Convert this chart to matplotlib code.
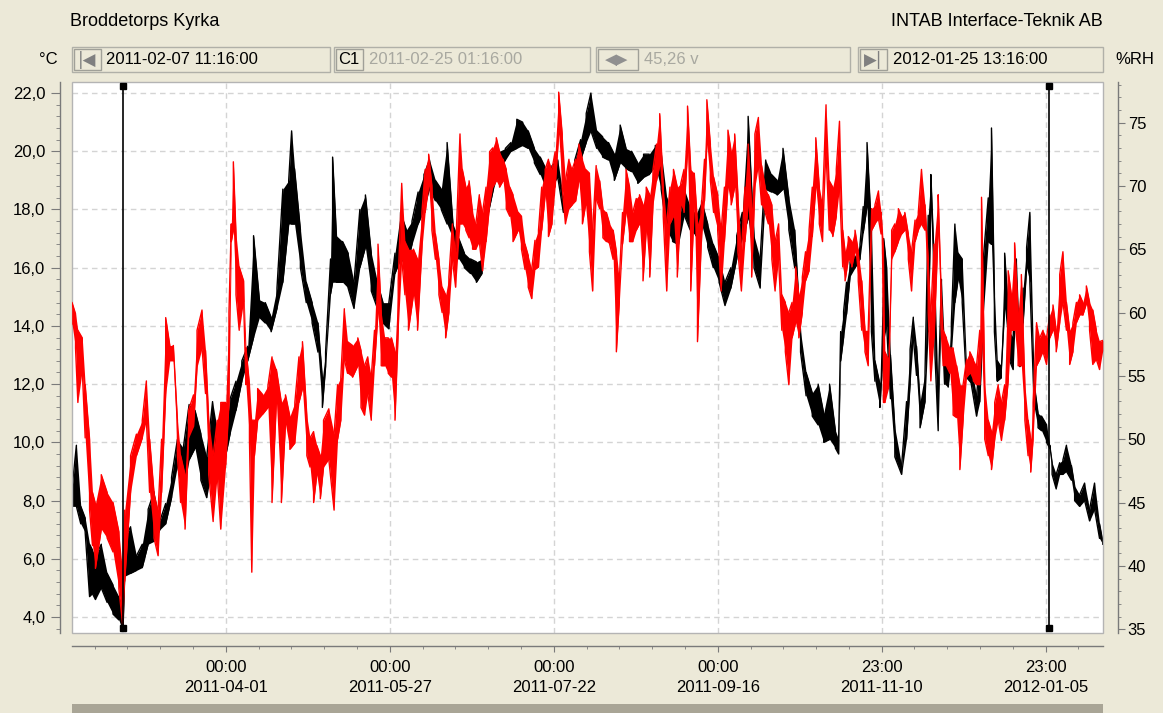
import pandas as pd
import matplotlib
matplotlib.use("Agg")
import matplotlib.pyplot as plt
from matplotlib.patches import Rectangle
from matplotlib.ticker import FuncFormatter, MultipleLocator
import matplotlib.transforms as mtransforms

plt.rcParams['font.family'] = ['Liberation Sans', 'DejaVu Sans']

W, H = 1163, 713
BG = '#ECE9D8'

start = pd.Timestamp("2011-02-07 11:16")
end = pd.Timestamp("2012-01-25 13:16")
cursor_left = pd.Timestamp("2011-02-25 01:16")
cursor_right = pd.Timestamp("2012-01-07 06:00")

# temperature (black, left axis): days after start, low / high of the band
temp_day = [0, 1.5, 3, 4.5, 6, 7, 8, 10, 12, 14, 16, 17.4, 18, 20, 22, 24, 26, 28, 30, 32,
            34, 36, 38, 40, 42, 44, 46, 48, 50, 52, 54, 56, 58, 60, 62, 64, 66, 68, 70, 72,
            74, 75, 76, 78, 80, 82, 84, 85.5, 86.6, 88.3, 89, 90.3, 92.4, 94.3, 96.3, 98.3, 100.2, 102.2, 104.3, 106.2,
            108.2, 110.3, 112.2, 114.2, 116.1, 118.2, 120.2, 122.1, 124.1, 126.1, 128.1, 130.1, 132.1, 134.0, 136.1, 138.1, 140.0, 142.0, 143.9, 146.0,
            148.0, 149.9, 151.9, 153.9, 155.8, 157.9, 159.9, 161.8, 163.9, 165.9, 167.8, 169.8, 171.7, 173.7, 175.6, 177.2, 179.2, 181.2, 183.2, 185.2,
            187.2, 189.2, 191.1, 193.2, 195.2, 197.1, 199.2, 201.2, 203.1, 205.1, 207.1, 209.1, 211.1, 213.0, 215.0, 217.1, 219.0, 221.0, 223.0, 225.0,
            227.0, 228.9, 230.9, 232.9, 235.0, 236.9, 238.9, 240.8, 242.8, 244.8, 246.8, 248.8, 250.7, 252.8, 254.8, 256.7, 258.7, 260.7, 261.8, 262.5,
            263.5, 264.5, 265.7, 267.4, 269.1, 270.2, 271.5, 273.0, 274.2, 275.9, 277.2, 278.2, 279.5, 281.0, 283.3, 285.0, 286.2, 287.3, 288.4, 289.6,
            291.3, 292.4, 293.3, 294.7, 295.8, 296.9, 298.0, 299.2, 300.3, 301.5, 302.6, 304.0, 305.4, 307.1, 308.9, 310.0, 311.2, 312.9, 314.0, 315.0,
            316.0, 317.2, 318.5, 320.2, 321.4, 322.5, 323.7, 324.8, 326.0, 327.1, 328.6, 329.9, 331.1, 332.8, 333.9, 334.7, 336.1, 337.3, 338.4, 339.6,
            341.3, 342.4, 344.1, 345.8, 347.5, 349.2, 350.9, 352.0]
temp_lo = [7.8, 7.8, 7.2, 6.9, 4.7, 4.8, 4.6, 5.0, 4.5, 4.1, 3.9, 3.5, 5.4, 5.5, 5.6, 5.7, 6.5, 6.6, 7.0, 7.2,
           8.1, 9.2, 8.3, 9.4, 9.8, 8.7, 8.1, 9.2, 9.1, 9.3, 10.3, 11.1, 12.1, 12.8, 13.6, 14.3, 14.1, 13.8, 14.6, 15.5,
           17.5, 17.5, 17.5, 16.0, 14.8, 14.1, 13.1, 11.2, 12.6, 15.1, 15.5, 15.5, 15.5, 15.3, 14.6, 16.0, 16.7, 15.2, 14.6, 14.1,
           13.9, 15.8, 16.3, 16.0, 16.8, 17.5, 18.0, 18.7, 18.3, 18.0, 17.5, 17.0, 16.3, 16.0, 15.8, 15.5, 15.8, 17.8, 18.7, 19.4,
           19.7, 20.0, 20.1, 20.2, 20.1, 19.6, 19.2, 18.7, 18.8, 19.1, 17.9, 18.2, 18.7, 19.7, 20.3, 20.7, 20.1, 19.8, 19.7, 19.0,
           19.6, 19.4, 19.3, 18.9, 19.1, 19.2, 19.5, 18.7, 17.3, 16.9, 16.8, 17.8, 17.3, 17.1, 17.5, 16.7, 16.0, 15.5, 14.7, 15.3,
           16.3, 17.0, 17.7, 16.0, 15.3, 18.7, 18.6, 18.5, 18.7, 17.3, 16.0, 13.1, 11.6, 10.9, 10.6, 10.0, 10.1, 9.8, 9.6, 12.8,
           13.6, 14.4, 15.7, 16.0, 16.3, 17.2, 18.1, 13.8, 12.1, 11.2, 13.5, 14.0, 11.5, 9.5, 8.9, 10.1, 12.0, 13.6, 12.3, 10.5,
           11.4, 13.8, 18.1, 13.0, 10.4, 14.8, 12.0, 11.9, 13.1, 14.8, 15.6, 14.8, 12.2, 12.0, 10.9, 11.4, 14.4, 16.9, 16.8, 13.8,
           12.1, 12.2, 14.6, 12.8, 12.5, 15.1, 12.6, 14.1, 16.0, 15.5, 11.2, 10.5, 10.4, 10.0, 9.8, 8.9, 8.4, 8.9, 8.9, 9.0,
           8.7, 8.0, 7.8, 8.0, 7.3, 7.7, 6.7, 6.5]
temp_hi = [8.4, 9.9, 7.8, 7.4, 6.5, 6.3, 6.1, 6.5, 5.5, 5.1, 4.7, 4.2, 6.7, 7.1, 6.1, 6.5, 7.7, 8.3, 7.3, 7.9,
           8.8, 10.1, 9.8, 11.3, 11.1, 10.3, 9.5, 11.4, 10.2, 10.0, 11.5, 12.1, 12.8, 13.3, 17.1, 14.9, 14.8, 14.3, 15.3, 18.7,
           19.0, 20.7, 19.4, 17.3, 15.5, 14.8, 14.1, 12.2, 13.1, 16.3, 19.8, 17.1, 16.9, 16.5, 15.5, 18.0, 18.5, 16.5, 15.5, 14.8,
           14.8, 16.5, 17.9, 17.3, 17.6, 18.6, 19.2, 19.7, 19.0, 18.7, 20.3, 17.5, 17.0, 16.5, 16.3, 16.2, 16.3, 18.7, 20.0, 20.0,
           20.1, 20.3, 21.1, 21.0, 20.7, 20.1, 19.8, 19.4, 19.5, 19.7, 18.4, 18.8, 19.7, 20.4, 21.3, 22.0, 20.7, 20.5, 20.3, 19.9,
           20.9, 20.1, 20.0, 19.6, 19.9, 19.9, 20.2, 20.0, 18.4, 17.8, 17.5, 18.7, 18.1, 17.8, 18.3, 17.5, 16.8, 16.3, 15.5, 16.0,
           17.1, 17.9, 21.2, 17.1, 16.3, 19.7, 19.2, 19.0, 20.1, 18.4, 17.3, 13.8, 12.4, 11.7, 12.0, 11.0, 12.0, 10.4, 10.1, 13.8,
           14.5, 15.5, 16.2, 16.4, 16.8, 18.1, 20.3, 17.3, 12.8, 12.0, 17.0, 16.0, 13.0, 10.5, 9.2, 11.4, 13.2, 14.3, 13.3, 11.4,
           12.4, 17.8, 19.2, 15.5, 11.6, 15.6, 13.2, 12.6, 14.1, 17.5, 16.5, 16.3, 12.8, 12.6, 11.6, 12.8, 16.3, 18.4, 20.8, 15.1,
           12.8, 12.6, 16.5, 13.8, 13.6, 16.3, 13.2, 15.3, 16.7, 17.9, 12.0, 11.0, 10.9, 10.6, 9.9, 9.3, 8.9, 9.3, 9.4, 9.9,
           9.2, 8.5, 8.2, 8.6, 7.7, 8.6, 7.2, 6.6]

# relative humidity (red, right axis)
rh_day = [0, 1.2, 2.0, 3.5, 4.5, 6.0, 7.0, 8.0, 10.0, 12.0, 14.0, 16.0, 17.3, 18.0, 20.0, 22.0, 24.0, 25.4, 26.5, 28.0,
          29.4, 30.6, 32.0, 33.4, 34.6, 36.0, 37.1, 38.6, 39.8, 41.5, 42.7, 44.4, 45.6, 46.7, 48.2, 49.6, 50.8, 52.5, 53.6, 54.4,
          55.1, 56.0, 57.1, 58.6, 59.4, 60.6, 61.4, 62.3, 63.4, 65.2, 66.9, 68.3, 69.8, 71.5, 72.9, 74.4, 76.1, 77.5, 78.7, 80.2,
          81.3, 82.5, 83.6, 84.8, 85.9, 87.7, 89.5, 90.7, 91.8, 93.0, 94.1, 95.8, 97.6, 98.7, 99.9, 101.0, 102.2, 103.3, 104.5, 105.6,
          106.8, 108.0, 109.1, 110.3, 111.4, 112.6, 113.7, 114.9, 116.6, 118.0, 119.5, 120.6, 121.8, 122.9, 124.1, 125.3, 126.4, 127.6, 128.7, 129.9,
          131.0, 132.5, 133.3, 134.5, 135.6, 136.8, 137.9, 139.1, 140.2, 141.4, 142.6, 143.7, 144.9, 146.0, 147.2, 148.3, 149.5, 150.6, 152.4, 153.5,
          154.7, 155.8, 157.0, 158.1, 159.3, 160.4, 161.6, 162.7, 163.9, 165.0, 166.2, 167.4, 168.5, 169.7, 170.8, 172.0, 173.1, 174.3, 175.4, 176.7,
          177.8, 179.0, 180.2, 181.3, 182.5, 183.6, 184.8, 185.9, 186.9, 188.0, 189.2, 190.4, 191.5, 192.7, 193.8, 195.0, 196.1, 197.3, 198.4, 199.6,
          200.7, 201.9, 203.1, 204.2, 205.4, 206.7, 207.9, 209.0, 210.2, 211.3, 212.5, 213.6, 214.8, 216.0, 216.8, 218.0, 219.1, 220.5, 221.7, 222.8,
          224.0, 225.1, 226.3, 227.4, 228.6, 229.8, 230.9, 232.1, 233.2, 234.4, 235.5, 236.7, 237.8, 239.0, 240.1, 241.3, 242.4, 243.6, 244.8, 245.9,
          247.1, 248.2, 249.4, 250.5, 251.7, 252.8, 254.0, 255.2, 256.3, 257.5, 258.6, 259.8, 261.0, 262.1, 263.2, 264.0, 265.1, 266.3, 267.4, 268.5,
          269.7, 270.8, 271.9, 273.1, 274.2, 275.4, 276.3, 277.1, 277.6, 278.8, 279.9, 281.0, 282.2, 283.3, 284.4, 285.6, 286.7, 287.9, 289.0, 290.1,
          291.3, 292.4, 293.3, 294.4, 295.8, 296.7, 297.5, 298.6, 299.8, 300.9, 302.1, 303.2, 304.3, 305.5, 306.6, 307.8, 308.9, 310.0, 310.6, 311.7,
          312.9, 314.0, 315.1, 316.3, 317.4, 318.5, 319.7, 320.8, 321.9, 323.1, 324.2, 325.4, 326.5, 327.4, 328.2, 329.4, 330.5, 331.6, 332.8, 333.9,
          335.0, 336.1, 337.3, 338.4, 339.6, 340.7, 341.8, 343.0, 344.1, 345.2, 346.4, 347.5, 348.6, 349.8, 350.9, 352.0]
rh_lo = [59.1, 57.2, 52.9, 55.5, 50.1, 44.4, 41.6, 39.8, 42.9, 42.2, 41.1, 38.2, 35.4, 38.8, 45.8, 48.7, 50.1, 51.5, 45.8, 42.2,
         40.8, 45.8, 53.6, 56.2, 56.2, 48.7, 45.0, 42.9, 50.1, 51.0, 55.7, 57.2, 53.6, 47.2, 43.5, 47.2, 42.9, 48.0, 52.9, 65.6,
         66.5, 61.4, 58.6, 60.9, 54.3, 50.0, 39.5, 48.7, 51.5, 52.0, 52.5, 45.0, 53.0, 45.0, 51.2, 49.2, 49.7, 52.9, 54.0, 48.7,
         47.8, 45.0, 47.2, 45.3, 47.8, 48.4, 44.4, 50.0, 51.5, 56.3, 55.2, 54.9, 55.8, 52.5, 51.9, 53.6, 51.5, 55.8, 60.0, 55.8,
         55.8, 55.2, 54.9, 51.5, 58.6, 64.2, 61.4, 58.6, 61.4, 58.6, 65.1, 67.9, 70.0, 66.5, 64.2, 61.4, 60.0, 58.0, 60.0, 64.2,
         62.0, 67.0, 67.0, 66.5, 65.9, 65.0, 65.0, 65.6, 63.3, 65.6, 68.5, 69.9, 70.4, 69.9, 70.4, 68.2, 67.6, 65.6, 66.5, 65.0,
         63.4, 62.0, 61.1, 63.4, 63.6, 66.5, 69.3, 66.0, 67.0, 69.9, 74.1, 69.9, 67.0, 68.2, 68.5, 68.8, 70.4, 67.0, 68.5, 64.8,
         61.7, 69.0, 68.2, 65.9, 65.6, 65.4, 64.2, 56.9, 60.8, 65.4, 67.9, 65.6, 65.6, 66.5, 67.0, 62.5, 66.5, 62.8, 68.5, 70.4,
         71.6, 67.6, 61.7, 67.0, 67.6, 62.8, 68.5, 67.9, 72.7, 61.7, 68.5, 57.7, 65.0, 68.8, 73.3, 70.4, 67.9, 66.5, 61.7, 65.6,
         69.9, 68.5, 69.9, 64.8, 61.7, 65.6, 68.5, 62.8, 69.9, 71.6, 68.5, 67.9, 67.0, 64.2, 61.7, 64.2, 58.6, 56.9, 54.3, 58.0,
         59.2, 58.0, 60.0, 62.5, 63.3, 66.0, 69.9, 67.0, 65.6, 72.7, 66.5, 66.0, 67.6, 69.9, 63.6, 62.5, 64.2, 63.6, 64.8, 62.5,
         58.6, 56.9, 55.8, 66.5, 67.0, 67.4, 66.2, 52.9, 52.9, 54.0, 64.2, 64.8, 65.6, 66.2, 66.5, 64.2, 61.7, 65.6, 66.5, 67.0,
         66.5, 60.0, 54.6, 58.0, 66.5, 59.2, 55.8, 55.8, 55.2, 51.9, 51.7, 47.6, 51.5, 54.9, 55.2, 54.6, 54.3, 54.3, 57.7, 50.0,
         48.7, 47.6, 50.0, 51.5, 49.9, 51.5, 54.6, 58.6, 58.6, 55.8, 55.8, 51.5, 48.7, 47.4, 50.0, 55.8, 56.3, 56.9, 55.9, 58.0,
         58.6, 56.9, 59.2, 60.8, 58.6, 55.9, 56.9, 59.2, 59.8, 59.8, 60.7, 58.6, 55.9, 56.3, 55.5, 57.0]
rh_hi = [60.8, 59.9, 58.6, 58.0, 54.3, 50.0, 45.8, 44.9, 47.2, 45.8, 45.0, 42.7, 39.4, 44.4, 48.7, 50.4, 51.5, 54.6, 50.0, 45.8,
         44.4, 50.0, 59.6, 57.4, 57.4, 51.5, 48.7, 47.2, 52.3, 53.5, 58.6, 60.2, 57.0, 51.5, 48.7, 51.5, 52.9, 52.9, 60.0, 67.0,
         71.9, 66.2, 63.6, 62.5, 57.2, 54.3, 51.5, 51.5, 54.0, 53.5, 54.2, 56.5, 55.5, 52.9, 53.5, 51.8, 52.9, 56.5, 57.7, 51.8,
         50.1, 50.6, 49.5, 48.7, 51.5, 52.4, 50.4, 54.3, 54.9, 60.3, 57.7, 57.4, 58.0, 57.0, 55.8, 56.5, 54.9, 58.6, 65.4, 60.0,
         58.0, 58.0, 58.0, 56.9, 62.5, 70.2, 65.6, 65.0, 65.0, 64.2, 67.9, 71.3, 72.5, 70.0, 66.2, 64.2, 62.0, 61.4, 62.8, 67.0,
         64.8, 74.1, 71.3, 69.9, 70.4, 67.9, 67.0, 69.3, 67.9, 69.9, 72.7, 73.0, 73.8, 72.7, 72.1, 71.3, 69.9, 69.3, 67.9, 67.6,
         65.4, 64.5, 63.4, 65.7, 66.5, 69.9, 71.3, 72.1, 71.3, 72.7, 77.4, 74.1, 70.4, 72.1, 71.3, 72.1, 73.3, 72.1, 71.3, 71.0,
         66.5, 71.6, 70.4, 68.2, 67.9, 67.0, 66.5, 64.8, 62.5, 67.9, 71.3, 69.9, 67.9, 69.0, 69.3, 68.5, 69.9, 69.3, 71.3, 73.3,
         75.7, 69.9, 67.0, 69.9, 71.3, 69.9, 70.2, 71.3, 76.3, 71.3, 71.0, 67.0, 67.9, 72.1, 76.8, 73.3, 70.7, 69.3, 66.5, 69.9,
         74.4, 72.7, 74.1, 69.3, 64.8, 69.9, 73.3, 68.2, 74.1, 75.4, 71.6, 69.9, 69.3, 68.5, 65.6, 67.0, 61.4, 60.8, 60.0, 60.8,
         63.6, 61.4, 62.8, 64.8, 66.5, 69.9, 73.8, 69.9, 68.5, 76.4, 70.4, 69.9, 71.3, 75.1, 66.5, 64.8, 66.0, 65.6, 66.5, 64.8,
         62.5, 58.6, 58.6, 68.2, 68.5, 69.6, 67.9, 65.0, 56.9, 56.3, 66.5, 67.0, 68.2, 67.6, 67.9, 66.2, 64.8, 67.3, 67.9, 71.3,
         68.5, 64.2, 60.0, 65.4, 69.3, 62.5, 58.6, 58.0, 57.2, 57.2, 55.8, 54.3, 54.3, 56.3, 56.9, 56.3, 55.8, 58.6, 69.1, 54.3,
         51.5, 50.6, 52.9, 54.3, 52.9, 54.3, 63.3, 61.4, 65.5, 60.0, 63.0, 54.3, 51.5, 50.0, 52.9, 59.2, 58.0, 58.6, 58.0, 59.8,
         60.6, 58.6, 63.0, 64.8, 60.8, 58.6, 59.2, 60.8, 61.4, 60.8, 62.1, 60.8, 60.2, 58.6, 57.7, 57.8]

tick_times = ["2011-04-01 00:00", "2011-05-27 00:00", "2011-07-22 00:00",
              "2011-09-16 00:00", "2011-11-10 23:00", "2012-01-05 23:00"]


def zigzag(days, lo, hi):
    xs, ys = [], []
    for i, (d, a, b) in enumerate(zip(days, lo, hi)):
        t = start + pd.Timedelta(days=d)
        xs += [t, t]
        ys += [a, b] if i % 2 == 0 else [b, a]
    return xs, ys


def px_rect(x0, y0, x1, y1, **kw):
    return Rectangle((x0 / W, 1 - y1 / H), (x1 - x0) / W, (y1 - y0) / H,
                     transform=fig.transFigure, **kw)


def px_text(x, y, s, **kw):
    fig.text(x / W, 1 - y / H, s, **kw)


fig = plt.figure(figsize=(W / 100, H / 100), dpi=100, facecolor=BG)
ax = fig.add_axes([72 / W, (H - 633) / H, 1031 / W, 551 / H])
ax.set_facecolor('white')
ax2 = ax.twinx()

temp_t = [start + pd.Timedelta(days=d) for d in temp_day]
rh_t = [start + pd.Timedelta(days=d) for d in rh_day]

ax.fill_between(temp_t, temp_lo, temp_hi, color='black', lw=0, zorder=3)
tx, ty = zigzag(temp_day, temp_lo, temp_hi)
ax.plot(tx, ty, color='black', lw=1.0, zorder=3)
ax2.fill_between(rh_t, rh_lo, rh_hi, color='#FF0000', lw=0, zorder=3)
rx, ry = zigzag(rh_day, rh_lo, rh_hi)
ax2.plot(rx, ry, color='#FF0000', lw=1.0, zorder=3)

ax.set_xlim(start, end)
ax.set_ylim(3.45, 22.38)
ax2.set_ylim(34.7, 78.2)

# cursors
btrans = mtransforms.blended_transform_factory(ax2.transData, ax2.transAxes)
for c in [cursor_left, cursor_right]:
    ax2.plot([c, c], [0.009, 0.993], transform=btrans, color='black', lw=1.2,
             marker='s', ms=5, zorder=5, clip_on=False)

# x ticks
majors = [pd.Timestamp(t) for t in tick_times]
minors = []
for m in majors:
    for k in range(1, 5):
        minors.append(m + pd.Timedelta(days=11.2 * k))
for k in range(1, 5):
    minors.append(majors[0] - pd.Timedelta(days=11.2 * k))
minors = [m for m in minors if start <= m <= end]
ax.set_xticks(majors)
ax.set_xticklabels([t.strftime("%H:%M") + "\n" + t.strftime("%Y-%m-%d") for t in majors])
ax.set_xticks(minors, minor=True)

ax.yaxis.set_major_locator(MultipleLocator(2))
ax.yaxis.set_minor_locator(MultipleLocator(0.4))
ax.yaxis.set_major_formatter(FuncFormatter(lambda v, p: f"{v:.1f}".replace('.', ',')))
ax2.yaxis.set_major_locator(MultipleLocator(5))
ax2.yaxis.set_minor_locator(MultipleLocator(1))

ax.grid(True, which='major', color='#D4D4D4', lw=1, linestyle=(0, (4, 3)))
ax.set_axisbelow(True)

axis_col = '#7A7A7A'
for a in [ax, ax2]:
    for s in a.spines.values():
        s.set_visible(False)
ax.spines['left'].set_visible(True)
ax.spines['left'].set_position(('outward', 8.6))
ax.spines['bottom'].set_visible(True)
ax.spines['bottom'].set_position(('outward', 9.4))
ax2.spines['right'].set_visible(True)
ax2.spines['right'].set_position(('outward', 10.8))
for s in [ax.spines['left'], ax.spines['bottom'], ax2.spines['right']]:
    s.set_color(axis_col)
    s.set_linewidth(1)

ax.tick_params(axis='y', which='major', length=6.5, color=axis_col, labelsize=12, pad=4)
ax.tick_params(axis='y', which='minor', length=3, color=axis_col)
ax.tick_params(axis='x', which='major', length=4.5, color=axis_col, pad=5.5, labelsize=12)
ax.tick_params(axis='x', which='minor', length=2.5, color=axis_col)
ax2.tick_params(axis='y', which='major', length=5, color=axis_col, labelsize=12, pad=2)
ax2.tick_params(axis='y', which='minor', length=2.5, color=axis_col)
plt.setp(ax.get_xticklabels(), linespacing=1.45)

ax.add_patch(Rectangle((0, 0), 1, 1, transform=ax.transAxes, fill=False,
                       edgecolor='#B4B4B4', lw=1, clip_on=False, zorder=6))

# header
px_text(70, 21, "Broddetorps Kyrka", fontsize=13, va='center', ha='left')
px_text(1103, 21, "INTAB Interface-Teknik AB", fontsize=13, va='center', ha='right')
px_text(58, 60, "°C", fontsize=12, va='center', ha='right')
px_text(1115, 60, "%RH", fontsize=12, va='center', ha='left')

boxes = [(72, 330, 101), (334, 590, 363), (596, 850, 638), (858, 1103, 887)]
for x0, x1, b in boxes:
    fig.patches.append(px_rect(x0, 47, x1, 72, fill=False, edgecolor='#B0B0A8', lw=1))
    fig.patches.append(px_rect(x0 + 2, 49, b, 70, fill=False, edgecolor='#A0A098', lw=1))

grey = '#A8A8A0'
px_text(87, 60, "|◀", fontsize=12, va='center', ha='center', color='#808080',
        family=['DejaVu Sans'])
px_text(106, 60, "2011-02-07 11:16:00", fontsize=12, va='center', ha='left')
px_text(349, 60, "C1", fontsize=12, va='center', ha='center')
px_text(369, 60, "2011-02-25 01:16:00", fontsize=12, va='center', ha='left', color=grey)
px_text(617, 60, "◀▶", fontsize=11, va='center', ha='center', color='#909090',
        family=['DejaVu Sans'])
px_text(644, 60, "45,26 v", fontsize=12, va='center', ha='left', color=grey)
px_text(873, 60, "▶|", fontsize=12, va='center', ha='center', color='#808080',
        family=['DejaVu Sans'])
px_text(893, 60, "2012-01-25 13:16:00", fontsize=12, va='center', ha='left')

# scroll bar
fig.patches.append(px_rect(72, 704, 1103, 713, color='#A9A596', lw=0))

fig.savefig("out.png", dpi=100, facecolor=BG)
